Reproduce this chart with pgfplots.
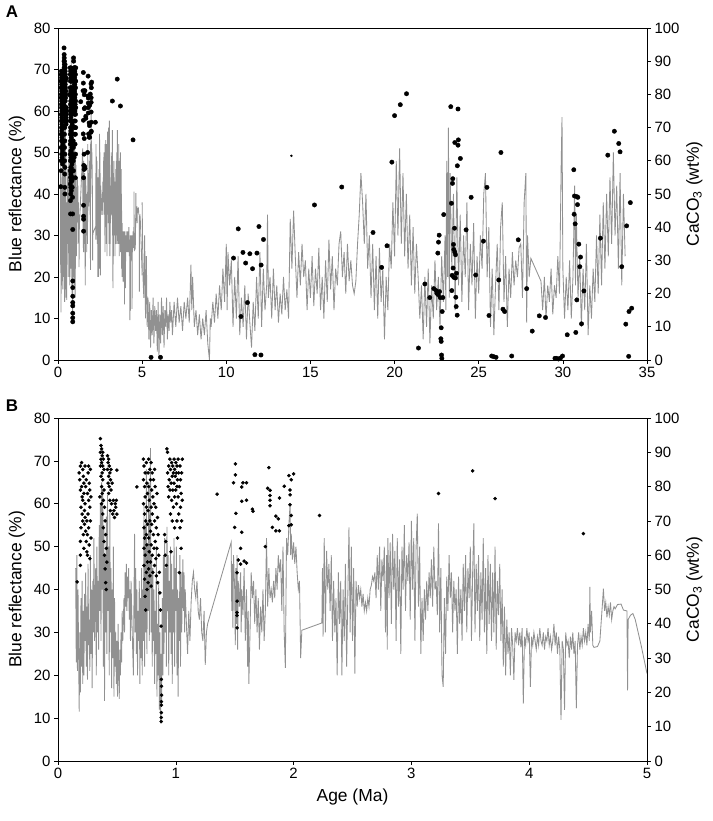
\documentclass[border=0pt]{standalone}
\usepackage{pgfplots}
\pgfplotsset{compat=1.18}
\usepackage{pgfplotstable}
\usepackage{fontspec}
\setmainfont{Liberation Sans}
\definecolor{lg}{RGB}{145,145,145}

% Blue reflectance (%), 0.15-5 Ma (panel B, and first part of panel A)
\pgfplotstableread[row sep=\\]{
x y\\
0.150 45\\ 0.155 23\\ 0.160 48\\ 0.165 21\\ 0.170 40\\ 0.175 25\\ 0.180 11.5\\ 0.185 30\\ 0.190 16\\ 0.195 38\\
0.200 22\\ 0.205 42\\ 0.210 18\\ 0.215 35\\ 0.220 20\\ 0.225 39\\ 0.230 28\\ 0.235 44\\ 0.240 22\\ 0.245 36\\
0.250 19\\ 0.255 46\\ 0.260 27\\ 0.265 33\\ 0.270 21\\ 0.275 48\\ 0.280 25\\ 0.285 40\\ 0.290 17\\ 0.295 42\\
0.300 30\\ 0.305 52\\ 0.310 28\\ 0.320 45\\ 0.325 20\\ 0.330 50\\ 0.335 30\\ 0.340 42\\ 0.345 26\\ 0.350 55\\
0.355 35\\ 0.360 60\\ 0.365 28\\ 0.370 65\\ 0.375 40\\ 0.380 63\\ 0.385 22\\ 0.390 55\\ 0.395 14\\ 0.400 48\\
0.405 30\\ 0.410 57\\ 0.415 25\\ 0.420 62\\ 0.425 35\\ 0.430 50\\ 0.435 20\\ 0.440 58\\ 0.445 30\\ 0.450 45\\
0.455 17\\ 0.460 40\\ 0.465 24\\ 0.470 50\\ 0.475 15\\ 0.480 38\\ 0.485 22\\ 0.490 30\\ 0.495 18\\ 0.500 28\\
0.505 15\\ 0.510 32\\ 0.515 22\\ 0.520 14.5\\ 0.525 26\\ 0.530 20\\ 0.535 30\\ 0.540 23\\ 0.545 35\\ 0.550 28\\
0.560 38\\ 0.565 30\\ 0.570 44\\ 0.575 36\\ 0.580 46\\ 0.585 35\\ 0.590 43\\ 0.595 38\\ 0.600 45\\ 0.605 33\\
0.610 40\\ 0.615 28\\ 0.620 42\\ 0.630 30\\ 0.640 20\\ 0.645 38\\ 0.650 53\\ 0.655 30\\ 0.660 45\\ 0.665 25\\
0.670 40\\ 0.675 20\\ 0.680 35\\ 0.685 28\\ 0.690 42\\ 0.695 18\\ 0.700 38\\ 0.705 24\\ 0.710 45\\ 0.715 20\\
0.720 40\\ 0.725 28\\ 0.730 60\\ 0.735 22\\ 0.740 55\\ 0.745 30\\ 0.750 68\\ 0.755 25\\ 0.760 50\\ 0.765 35\\
0.770 65\\ 0.775 28\\ 0.780 55\\ 0.785 73\\ 0.790 30\\ 0.795 48\\ 0.800 22\\ 0.805 45\\ 0.810 28\\ 0.815 40\\
0.820 18\\ 0.825 35\\ 0.830 25\\ 0.835 50\\ 0.840 15\\ 0.845 32\\ 0.850 20\\ 0.855 42\\ 0.860 12\\ 0.865 30\\
0.870 8.8\\ 0.875 25\\ 0.880 14\\ 0.885 38\\ 0.890 20\\ 0.895 48\\ 0.900 25\\ 0.905 52\\ 0.910 30\\ 0.915 45\\
0.920 22\\ 0.925 54.6\\ 0.930 35\\ 0.935 48\\ 0.940 20\\ 0.945 42\\ 0.950 30\\ 0.955 50\\ 0.960 25\\ 0.965 46\\
0.970 18\\ 0.975 40\\ 0.980 30\\ 0.985 52\\ 0.990 22\\ 0.995 45\\ 1.000 35\\ 1.005 50\\ 1.010 20\\ 1.015 40\\
1.020 15\\ 1.025 38\\ 1.030 28\\ 1.035 48\\ 1.040 22\\ 1.045 44\\ 1.050 30\\ 1.060 47\\ 1.065 35\\ 1.070 44\\
1.075 30\\ 1.080 40\\ 1.090 32\\ 1.100 25\\ 1.110 35\\ 1.120 28\\ 1.130 37\\ 1.140 42\\ 1.150 44\\ 1.160 40\\
1.170 38\\ 1.180 42\\ 1.190 35\\ 1.200 33\\ 1.210 38\\ 1.220 30\\ 1.230 28\\ 1.240 35\\ 1.250 22.4\\ 1.260 30\\
1.270 32\\ 1.470 51\\ 1.475 35\\ 1.480 46\\ 1.485 31\\ 1.490 48\\ 1.500 40\\ 1.505 27\\ 1.510 45\\ 1.515 32\\
1.520 48\\ 1.525 26\\ 1.530 42\\ 1.540 36\\ 1.550 44\\ 1.555 30\\ 1.560 40\\ 1.570 34\\ 1.580 45\\ 1.590 28\\
1.600 40\\ 1.610 22\\ 1.615 35\\ 1.620 18\\ 1.630 30\\ 1.640 44\\ 1.650 38\\ 1.660 42\\ 1.670 32\\ 1.680 40\\
1.690 30\\ 1.700 38\\ 1.710 26\\ 1.720 36\\ 1.730 30\\ 1.740 40\\ 1.750 28\\ 1.760 35\\ 1.770 52\\ 1.780 36\\
1.790 45\\ 1.800 38\\ 1.810 40\\ 1.820 37\\ 1.830 42\\ 1.840 38\\ 1.850 45\\ 1.860 40\\ 1.870 48\\ 1.880 44\\
1.890 47\\ 1.900 35\\ 1.910 50\\ 1.920 30\\ 1.930 21.7\\ 1.940 52\\ 1.950 48\\ 1.960 55\\ 1.970 60\\ 1.975 48\\
1.980 53\\ 1.990 47\\ 2.000 51\\ 2.010 46\\ 2.020 50\\ 2.030 44\\ 2.040 40\\ 2.050 42\\ 2.060 24\\ 2.070 30.5\\
2.240 32.2\\ 2.245 45\\ 2.250 29\\ 2.260 52\\ 2.270 30\\ 2.280 49\\ 2.290 40\\ 2.300 46\\ 2.310 35\\ 2.320 48\\
2.330 28\\ 2.340 42\\ 2.350 30\\ 2.360 38\\ 2.370 20\\ 2.380 44\\ 2.390 32\\ 2.400 42\\ 2.410 20\\ 2.420 40\\
2.430 28\\ 2.440 46\\ 2.450 22\\ 2.460 38\\ 2.470 54.5\\ 2.480 30\\ 2.490 50\\ 2.500 28\\ 2.510 45\\ 2.520 20.4\\
2.530 42\\ 2.540 36\\ 2.550 41\\ 2.560 38\\ 2.570 40\\ 2.580 36\\ 2.590 39\\ 2.600 35\\ 2.610 37\\ 2.620 35\\
2.630 38\\ 2.640 36\\ 2.650 40\\ 2.660 41\\ 2.670 43\\ 2.680 42\\ 2.690 44\\ 2.700 38\\ 2.710 48\\ 2.720 40\\
2.730 50\\ 2.740 35\\ 2.750 47\\ 2.760 42\\ 2.770 50\\ 2.780 30\\ 2.790 48\\ 2.795 26\\ 2.800 52\\ 2.810 38\\
2.820 51\\ 2.830 32\\ 2.840 53\\ 2.850 40\\ 2.860 49\\ 2.870 28\\ 2.880 52\\ 2.890 36\\ 2.900 47\\ 2.910 25\\
2.920 50\\ 2.930 40\\ 2.940 55\\ 2.950 35\\ 2.960 48\\ 2.970 42\\ 2.980 51\\ 2.990 33\\ 3.000 56\\ 3.010 40\\
3.020 52\\ 3.030 28\\ 3.040 50\\ 3.050 57.7\\ 3.060 36\\ 3.070 50\\ 3.080 25\\ 3.090 38\\ 3.100 28\\ 3.110 40\\
3.120 33\\ 3.130 42\\ 3.140 35\\ 3.150 44\\ 3.160 38\\ 3.170 47\\ 3.180 36\\ 3.190 50\\ 3.200 40\\ 3.210 42\\
3.220 34\\ 3.230 55.4\\ 3.240 30\\ 3.250 45\\ 3.260 20\\ 3.270 17.3\\ 3.280 38\\ 3.290 25\\ 3.300 43\\ 3.310 35\\
3.320 48\\ 3.330 38\\ 3.340 44\\ 3.350 30\\ 3.360 42\\ 3.370 35\\ 3.380 40\\ 3.390 25\\ 3.400 43\\ 3.410 32\\
3.420 40\\ 3.430 28\\ 3.440 46\\ 3.450 35\\ 3.460 48\\ 3.470 30\\ 3.480 45\\ 3.490 38\\ 3.500 50\\ 3.510 28\\
3.520 44\\ 3.530 55.4\\ 3.540 30\\ 3.550 46\\ 3.560 35\\ 3.570 48\\ 3.580 28\\ 3.590 44\\ 3.600 33\\ 3.610 52\\
3.620 30\\ 3.630 45\\ 3.640 25\\ 3.650 48\\ 3.660 32\\ 3.670 46\\ 3.680 28\\ 3.690 44\\ 3.700 30\\ 3.710 50\\
3.720 26\\ 3.730 42\\ 3.740 34\\ 3.750 46\\ 3.760 28\\ 3.770 40\\ 3.780 22\\ 3.790 36\\ 3.800 20\\ 3.810 33\\
3.820 25\\ 3.830 30\\ 3.840 20\\ 3.850 31\\ 3.860 27\\ 3.870 18.9\\ 3.880 30\\ 3.890 28\\ 3.900 31\\ 3.910 27\\
3.920 30\\ 3.930 26.5\\ 3.940 31\\ 3.950 13.4\\ 3.960 29\\ 3.970 27\\ 3.980 31\\ 3.990 28\\ 4.000 30\\ 4.010 17.3\\
4.020 29\\ 4.030 27\\ 4.040 30\\ 4.050 28\\ 4.060 26\\ 4.070 29\\ 4.080 27\\ 4.090 31\\ 4.100 28\\ 4.110 27\\
4.120 30\\ 4.130 26\\ 4.140 29\\ 4.150 28\\ 4.160 31\\ 4.170 27\\ 4.180 29\\ 4.190 26\\ 4.200 28\\ 4.210 32\\
4.220 27\\ 4.230 30\\ 4.240 25\\ 4.250 29\\ 4.260 26\\ 4.270 9.6\\ 4.280 28\\ 4.290 26\\ 4.300 11.9\\ 4.310 30\\
4.320 27\\ 4.330 28\\ 4.340 24\\ 4.350 29\\ 4.360 26\\ 4.370 30\\ 4.380 25\\ 4.390 28\\ 4.400 12.3\\ 4.410 27\\
4.420 30\\ 4.430 26\\ 4.440 29\\ 4.450 27\\ 4.460 31\\ 4.470 28\\ 4.480 30\\ 4.490 27\\ 4.500 32\\ 4.510 28\\
4.515 40.6\\ 4.520 30\\ 4.530 35\\ 4.540 27\\ 4.550 26.5\\ 4.580 26.7\\ 4.600 28\\ 4.620 36\\ 4.630 40.2\\ 4.640 35\\
4.650 37\\ 4.660 33.5\\ 4.670 36\\ 4.680 34\\ 4.690 37\\ 4.700 33\\ 4.710 35\\ 4.720 36\\ 4.730 35.5\\ 4.750 36.5\\
4.780 36.6\\ 4.800 35.2\\ 4.830 35\\ 4.835 16.5\\ 4.840 33\\ 4.860 34\\ 4.880 34.4\\ 4.900 33\\ 4.950 27\\ 5.000 20.4\\
}\lineB

% Blue reflectance (%), 5-34 Ma (panel A only)
\pgfplotstableread[row sep=\\]{
x y\\
5.00 38\\ 5.05 20\\ 5.10 15\\ 5.15 30\\ 5.20 10\\ 5.25 25\\ 5.30 8\\ 5.35 15\\ 5.40 5\\ 5.45 14\\
5.50 3\\ 5.55 12\\ 5.60 6\\ 5.65 15\\ 5.70 4\\ 5.75 13\\ 5.80 7\\ 5.85 12\\ 5.90 2\\ 5.95 14\\
6.00 0.5\\ 6.05 11\\ 6.10 4\\ 6.15 15\\ 6.20 6\\ 6.25 13\\ 6.30 3\\ 6.35 12\\ 6.40 8\\ 6.45 15\\
6.50 5\\ 6.55 11\\ 6.60 7\\ 6.65 14\\ 6.70 9\\ 6.75 12\\ 6.80 6\\ 6.90 14\\ 7.00 8\\ 7.10 15\\
7.20 9\\ 7.30 13\\ 7.40 7\\ 7.50 14\\ 7.60 10\\ 7.70 15\\ 7.80 9\\ 7.90 23\\ 7.95 12\\ 8.00 20\\
8.10 8\\ 8.20 12\\ 8.30 6\\ 8.40 11\\ 8.50 5\\ 8.60 10\\ 8.70 6\\ 8.80 12\\ 8.90 4\\ 9.00 0\\
9.05 10\\ 9.10 8\\ 9.20 14\\ 9.30 9\\ 9.40 16\\ 9.50 10\\ 9.60 18\\ 9.70 12\\ 9.80 22\\ 9.90 14\\
10.00 28\\ 10.05 12\\ 10.10 26\\ 10.20 18\\ 10.30 24\\ 10.40 8\\ 10.50 20\\ 10.60 10\\ 10.70 25\\ 10.80 6\\
10.90 15\\ 11.00 8\\ 11.10 18\\ 11.20 5\\ 11.30 16\\ 11.40 9\\ 11.50 3\\ 11.60 14\\ 11.70 7\\ 11.80 20\\
11.90 10\\ 12.00 26\\ 12.10 8\\ 12.20 22\\ 12.30 12\\ 12.40 18\\ 12.45 35\\ 12.50 15\\ 12.60 20\\ 12.70 10\\
12.80 22\\ 12.90 12\\ 13.00 18\\ 13.10 9\\ 13.20 16\\ 13.30 11\\ 13.40 20\\ 13.50 12\\ 13.60 17\\ 13.70 10\\
13.80 34\\ 13.90 22\\ 14.00 36\\ 14.10 25\\ 14.20 15\\ 14.30 26\\ 14.40 18\\ 14.50 28\\ 14.60 20\\ 14.70 24\\
14.80 12\\ 14.90 22\\ 15.00 15\\ 15.10 25\\ 15.20 13\\ 15.30 22\\ 15.40 16\\ 15.50 27\\ 15.60 12\\ 15.70 20\\
15.80 10\\ 15.90 24\\ 16.00 14\\ 16.10 29\\ 16.20 17\\ 16.30 25\\ 16.40 12\\ 16.50 22\\ 16.60 18\\ 16.70 28\\
16.80 31\\ 16.90 20\\ 17.00 26\\ 17.10 16\\ 17.20 28\\ 17.30 19\\ 17.40 24\\ 17.50 18\\ 17.60 16\\ 17.70 19\\
17.80 28\\ 17.90 35\\ 18.00 45\\ 18.10 38\\ 18.20 28\\ 18.30 40\\ 18.40 22\\ 18.50 30\\ 18.60 15\\ 18.70 28\\
18.80 12\\ 18.90 25\\ 19.00 10\\ 19.10 27\\ 19.20 14\\ 19.30 22\\ 19.40 5\\ 19.50 20\\ 19.60 12\\ 19.70 28\\
19.80 22\\ 19.90 38\\ 20.00 25\\ 20.10 48\\ 20.20 30\\ 20.30 51\\ 20.40 28\\ 20.50 45\\ 20.60 25\\ 20.70 40\\
20.80 22\\ 20.90 35\\ 21.00 18\\ 21.10 32\\ 21.20 16\\ 21.30 28\\ 21.40 20\\ 21.50 10\\ 21.60 18\\ 21.70 5\\
21.80 20\\ 21.90 8\\ 22.00 22\\ 22.10 4\\ 22.20 18\\ 22.30 10\\ 22.40 24\\ 22.50 12\\ 22.60 20\\ 22.70 8\\
22.80 25\\ 22.90 14\\ 23.00 30\\ 23.05 12\\ 23.10 48\\ 23.15 20\\ 23.20 56\\ 23.25 15\\ 23.30 45\\ 23.40 22\\
23.50 40\\ 23.60 12\\ 23.70 44\\ 23.80 18\\ 23.90 35\\ 24.00 14\\ 24.10 30\\ 24.20 20\\ 24.30 38\\ 24.40 12\\
24.50 28\\ 24.60 18\\ 24.70 33\\ 24.80 10\\ 24.90 25\\ 25.00 16\\ 25.10 30\\ 25.20 22\\ 25.30 40\\ 25.40 45\\
25.50 20\\ 25.60 32\\ 25.70 8\\ 25.80 22\\ 25.90 6\\ 26.00 18\\ 26.10 28\\ 26.20 12\\ 26.30 32\\ 26.40 38\\
26.50 14\\ 26.60 25\\ 26.70 8\\ 26.80 22\\ 26.90 15\\ 27.00 26\\ 27.10 18\\ 27.20 24\\ 27.30 20\\ 27.40 27\\
27.50 28\\ 27.60 15\\ 27.70 38\\ 27.80 45\\ 27.85 9\\ 27.90 30\\ 28.00 20\\ 28.10 24.5\\ 28.70 19\\ 28.80 12\\
28.90 20\\ 29.00 10\\ 29.10 18\\ 29.20 14\\ 29.30 22\\ 29.40 11\\ 29.50 18\\ 29.60 15\\ 29.70 25\\ 29.80 16\\
29.90 47\\ 29.95 58.5\\ 30.00 22\\ 30.10 10\\ 30.20 20\\ 30.30 12\\ 30.40 24\\ 30.50 10\\ 30.60 20\\ 30.70 42\\
30.75 18\\ 30.80 35\\ 30.90 15\\ 31.00 25\\ 31.10 8\\ 31.20 22\\ 31.30 12\\ 31.40 28\\ 31.50 6\\ 31.60 18\\
31.70 10\\ 31.80 22\\ 31.90 14\\ 32.00 30\\ 32.10 16\\ 32.20 35\\ 32.30 18\\ 32.40 38\\ 32.50 22\\ 32.60 40\\
32.70 25\\ 32.80 44\\ 32.90 28\\ 33.00 50\\ 33.10 30\\ 33.20 42\\ 33.30 22\\ 33.40 45\\ 33.50 18\\ 33.60 40\\
33.70 25\\
}\lineA

% CaCO3 (wt%), 0-5 Ma
\pgfplotstableread[row sep=\\]{
x y\\
0.162 52.2\\ 0.18 84\\ 0.185 82\\ 0.19 86\\ 0.19 79\\ 0.195 74\\ 0.195 68\\ 0.19 64\\ 0.19 60\\ 0.19 57\\
0.20 87\\ 0.20 80\\ 0.205 77\\ 0.205 72\\ 0.21 85\\ 0.21 76\\ 0.21 70\\ 0.215 83\\ 0.215 66\\ 0.22 81\\
0.22 78\\ 0.22 62\\ 0.225 73\\ 0.225 69\\ 0.23 86\\ 0.23 75\\ 0.23 71\\ 0.235 80\\ 0.235 67\\ 0.24 64\\
0.24 82\\ 0.245 70\\ 0.245 61\\ 0.25 78\\ 0.25 66\\ 0.25 60\\ 0.255 84\\ 0.255 72\\ 0.26 86\\ 0.26 76\\
0.26 68\\ 0.265 81\\ 0.265 63\\ 0.27 79\\ 0.27 74\\ 0.27 59\\ 0.275 85\\ 0.275 70\\ 0.28 77\\ 0.28 65\\
0.355 77\\ 0.36 94\\ 0.36 90\\ 0.36 86\\ 0.365 92\\ 0.365 88\\ 0.365 83\\ 0.37 91\\ 0.37 87\\ 0.37 80\\
0.37 75\\ 0.375 89\\ 0.375 84\\ 0.375 78\\ 0.38 90\\ 0.38 86\\ 0.38 82\\ 0.38 72\\ 0.385 88\\ 0.385 76\\
0.385 68\\ 0.39 85\\ 0.39 79\\ 0.39 64\\ 0.395 74\\ 0.395 60\\ 0.40 70\\ 0.40 56\\ 0.405 66\\ 0.405 52\\
0.41 62\\ 0.41 50\\ 0.415 58\\ 0.42 89\\ 0.42 85\\ 0.425 87\\ 0.425 81\\ 0.43 88\\ 0.43 83\\ 0.43 78\\
0.435 86\\ 0.435 80\\ 0.44 84\\ 0.44 76\\ 0.445 82\\ 0.445 73\\ 0.45 85\\ 0.45 79\\ 0.455 75\\ 0.46 81\\
0.465 72\\ 0.47 76\\ 0.475 73\\ 0.48 71\\ 0.485 75\\ 0.49 74\\ 0.495 76\\ 0.50 84.8\\ 0.50 72\\ 0.67 79.9\\
0.725 88\\ 0.725 82\\ 0.725 75\\ 0.73 86\\ 0.73 68\\ 0.73 62\\ 0.73 57\\ 0.735 80\\ 0.735 72\\ 0.735 65\\
0.735 53\\ 0.74 84\\ 0.74 77\\ 0.74 60\\ 0.74 48\\ 0.745 44\\ 0.745 70\\ 0.75 87\\ 0.75 74\\ 0.75 66\\
0.75 55\\ 0.755 81\\ 0.755 63\\ 0.755 50\\ 0.76 78\\ 0.76 69\\ 0.76 58\\ 0.765 84\\ 0.765 73\\ 0.765 52\\
0.77 88\\ 0.77 80\\ 0.77 65\\ 0.77 56\\ 0.775 76\\ 0.775 61\\ 0.78 85\\ 0.78 70\\ 0.78 54\\ 0.785 82\\
0.785 67\\ 0.785 58\\ 0.79 87\\ 0.79 74\\ 0.79 63\\ 0.79 51\\ 0.795 79\\ 0.795 69\\ 0.80 84\\ 0.80 72\\
0.80 60\\ 0.805 77\\ 0.805 55\\ 0.81 82\\ 0.81 66\\ 0.815 75\\ 0.815 62\\ 0.82 85\\ 0.82 70\\ 0.82 57\\
0.825 80\\ 0.825 64\\ 0.83 74\\ 0.83 59\\ 0.835 68\\ 0.835 54\\ 0.84 78\\ 0.84 62\\ 0.845 71\\ 0.845 52\\
0.85 66\\ 0.855 60\\ 0.86 55\\ 0.865 49\\ 0.87 44\\ 0.875 39.3\\ 0.877 23.8\\ 0.878 21.8\\ 0.879 19.2\\ 0.878 17.3\\
0.878 16.3\\ 0.877 14.1\\ 0.877 12.7\\ 0.876 11.5\\ 0.905 66\\ 0.91 60\\ 0.915 64\\ 0.92 57\\ 0.925 91\\ 0.93 90\\
0.93 84\\ 0.935 80\\ 0.94 86\\ 0.94 77\\ 0.945 82\\ 0.95 88\\ 0.95 79\\ 0.955 85\\ 0.955 72\\ 0.96 61\\
0.96 81\\ 0.965 87\\ 0.965 76\\ 0.97 83\\ 0.97 70\\ 0.975 86\\ 0.975 79\\ 0.98 84\\ 0.98 74\\ 0.985 88\\
0.985 81\\ 0.99 85\\ 0.99 77\\ 0.99 68\\ 0.995 83\\ 1.00 87\\ 1.00 79\\ 1.005 84\\ 1.005 75\\ 1.01 86\\
1.01 80\\ 1.01 70\\ 1.015 82\\ 1.015 65\\ 1.02 88\\ 1.02 77\\ 1.025 84\\ 1.025 72\\ 1.03 80\\ 1.03 54.9\\
1.035 86\\ 1.035 68\\ 1.04 82\\ 1.04 74\\ 1.045 78\\ 1.045 62\\ 1.05 84\\ 1.05 70\\ 1.055 88\\ 1.055 76\\
1.35 77.8\\ 1.506 86.6\\ 1.506 83.4\\ 1.49 81.1\\ 1.57 81.1\\ 1.60 81.1\\ 1.56 79.9\\ 1.56 75.7\\ 1.60 76.0\\ 1.51 72.2\\
1.65 73.4\\ 1.655 72.8\\ 1.50 68.1\\ 1.56 66.7\\ 1.55 62.0\\ 1.53 58.6\\ 1.55 57.4\\ 1.58 58.3\\ 1.60 57.7\\ 1.52 54.9\\
1.52 46.6\\ 1.52 43.3\\ 1.52 42.4\\ 1.52 38.8\\ 1.79 85.5\\ 1.96 83.2\\ 2.00 83.7\\ 1.98 82.0\\ 1.78 79.5\\ 1.80 78.9\\
1.92 80.1\\ 1.97 79.0\\ 1.80 77.4\\ 1.88 76.7\\ 1.97 77.6\\ 1.80 76.0\\ 1.80 74.4\\ 1.97 74.7\\ 1.85 71.4\\ 1.87 70.6\\
1.98 71.6\\ 1.82 68.1\\ 1.85 67.1\\ 1.88 67.1\\ 1.96 68.6\\ 1.98 68.9\\ 1.76 62.5\\ 2.22 71.6\\ 3.23 78.0\\ 3.52 84.6\\
3.71 76.5\\ 4.46 66.3\\
}\dotsB

% CaCO3 (wt%), 5-35 Ma (panel A only)
\pgfplotstableread[row sep=\\]{
x y\\
5.53 0.8\\ 6.09 0.8\\ 10.43 30.7\\ 10.71 39.5\\ 10.87 13.1\\ 10.99 32.4\\ 11.15 29.2\\ 11.26 17.3\\ 11.40 32.0\\ 11.56 27.5\\
11.70 1.6\\ 11.82 32.2\\ 11.94 40.2\\ 12.06 1.5\\ 12.07 28.6\\ 12.21 36.3\\ 15.24 46.7\\ 16.86 52.1\\
18.72 38.4\\ 19.23 27.9\\ 19.55 34.4\\ 19.84 59.6\\ 20.00 73.6\\ 20.34 76.9\\ 20.71 80.2\\ 21.42 3.6\\ 21.80 22.9\\ 22.09 18.8\\
22.33 21.5\\ 22.47 20.9\\ 22.57 32.2\\ 22.61 35.5\\ 22.65 37.6\\ 22.51 20.1\\ 22.59 19.7\\ 22.67 20.6\\ 22.71 18.8\\ 22.87 18.8\\
22.77 9.7\\ 22.83 14.6\\ 22.75 6.4\\ 22.77 5.6\\ 22.79 1.5\\ 22.81 0.5\\ 22.92 43.8\\ 23.34 76.3\\ 23.77 75.6\\ 23.38 47.2\\
23.44 53.2\\ 23.46 54.6\\ 23.58 65.5\\ 23.79 66.3\\ 23.77 64.7\\ 23.91 60.7\\ 23.73 58.5\\ 23.56 39.7\\ 23.50 34.8\\ 23.52 33.3\\
23.58 32.5\\ 23.62 31.7\\ 23.48 27.7\\ 23.42 25.5\\ 23.52 24.9\\ 23.62 24.7\\ 23.68 26.1\\ 23.64 18.9\\ 23.66 16.1\\ 23.72 13.5\\
23.40 20.9\\ 24.25 39.2\\ 24.55 49.0\\ 24.82 25.6\\ 25.28 35.8\\ 25.49 52.0\\ 25.61 13.4\\ 25.77 1.2\\ 25.89 1.0\\ 26.03 0.8\\
26.19 24.1\\ 26.32 62.5\\ 26.44 15.3\\ 26.54 14.6\\ 26.96 1.2\\ 27.35 36.2\\ 27.85 21.5\\ 28.18 8.7\\ 28.60 13.3\\ 28.97 12.8\\
29.53 0.5\\ 29.62 0.5\\ 29.74 0.3\\ 29.86 0.6\\ 29.98 1.2\\ 30.26 7.6\\ 30.65 57.3\\ 30.67 43.9\\ 30.73 41.0\\ 30.69 49.4\\
30.83 49.2\\ 30.89 49.0\\ 30.87 46.8\\ 30.95 34.9\\ 31.05 31.0\\ 31.01 28.1\\ 30.83 18.1\\ 30.77 8.3\\ 31.11 10.9\\ 31.25 20.8\\
32.23 36.7\\ 32.67 61.7\\ 33.06 68.9\\ 33.32 65.2\\ 33.40 62.7\\ 33.50 28.1\\ 33.79 40.4\\ 33.74 10.8\\ 33.93 14.6\\ 34.09 15.6\\
34.01 47.4\\ 33.91 1.1\\
}\dotsA

\pgfplotsset{
  every axis/.append style={
    scale only axis,
    tick align=outside,
    major tick length=4pt,
    axis line style={line width=0.8pt},
    every tick/.style={black,line width=0.6pt},
    tick label style={font=\fontsize{15}{17}\selectfont},
    label style={font=\fontsize{17.5}{20}\selectfont},
    /pgf/number format/assume math mode=true,
    clip=true,
  },
}

\begin{document}
\begin{tikzpicture}
\useasboundingbox (0,0) rectangle (713bp,821bp);

% ---------- Panel A ----------
\begin{axis}[
  at={(58bp,461bp)}, anchor=south west,
  width=589bp, height=332bp,
  xmin=0, xmax=35, ymin=0, ymax=80,
  xtick={0,5,...,35}, ytick={0,10,...,80},
  xtick pos=bottom, ytick pos=left,
  ylabel={Blue reflectance (\%)},
  ylabel style={at={(ticklabel cs:0.5)}, anchor=south, yshift=2pt},
]
\addplot[lg, line width=0.85pt] table[x=x,y=y] {\lineB};
\addplot[lg, line width=0.85pt] table[x=x,y=y] {\lineA};
\end{axis}
\begin{axis}[
  at={(58bp,461bp)}, anchor=south west,
  width=589bp, height=332bp,
  xmin=0, xmax=35, ymin=0, ymax=100,
  axis x line=none, axis y line*=right,
  ytick={0,10,...,100},
  ylabel={CaCO\textsubscript{3} (wt\%)},
]
\addplot[only marks, mark=*, mark size=2.2pt, black] table[x=x,y=y] {\dotsB};
\addplot[only marks, mark=*, mark size=2.2pt, black] table[x=x,y=y] {\dotsA};
\addplot[only marks, mark=*, mark size=1.0pt, black] coordinates {(13.87,61.5)};
\end{axis}

% ---------- Panel B ----------
\begin{axis}[
  at={(58bp,60bp)}, anchor=south west,
  width=589bp, height=343bp,
  xmin=0, xmax=5, ymin=0, ymax=80,
  xtick={0,1,...,5}, ytick={0,10,...,80},
  xtick pos=bottom, ytick pos=left,
  ylabel={Blue reflectance (\%)},
  ylabel style={at={(ticklabel cs:0.5)}, anchor=south, yshift=2pt},
  xlabel={Age (Ma)},
  xlabel style={yshift=-3pt},
]
\addplot[lg, line width=0.85pt] table[x=x,y=y] {\lineB};
\end{axis}
\begin{axis}[
  at={(58bp,60bp)}, anchor=south west,
  width=589bp, height=343bp,
  xmin=0, xmax=5, ymin=0, ymax=100,
  axis x line=none, axis y line*=right,
  ytick={0,10,...,100},
  ylabel={CaCO\textsubscript{3} (wt\%)},
]
\addplot[only marks, mark=*, mark size=1.6pt, black] table[x=x,y=y] {\dotsB};
\end{axis}

\node[font=\bfseries\fontsize{17}{19}\selectfont] at (12bp,809bp) {A};
\node[font=\bfseries\fontsize{17}{19}\selectfont] at (12bp,415bp) {B};
\end{tikzpicture}
\end{document}
